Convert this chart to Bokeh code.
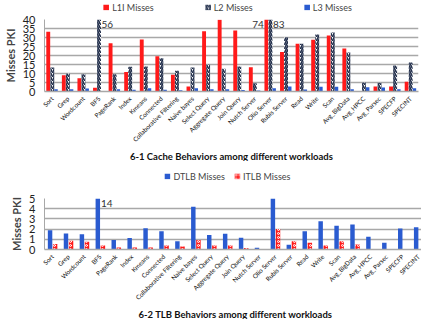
from bokeh.plotting import figure
from bokeh.layouts import column
from bokeh.models import (Range1d, FactorRange, Legend, LegendItem, Title,
                          ColumnDataSource, FixedTicker)
from bokeh.transform import dodge
from bokeh.core.properties import value
from bokeh.embed import file_html
from bokeh.resources import INLINE

workloads = ["Sort", "Grep", "Wordcount", "BFS", "PageRank", "Index", "Kmeans",
             "Connected", "Collaborative Filtering", "Naive bayes", "Select Query",
             "Aggregate Query", "Join Query", "Nutch Server", "Olio Server",
             "Rubis Server", "Read", "Write", "Scan", "Avg_BigData", "Avg_HPCC",
             "Avg_Parsec", "SPECFP", "SPECINT"]

l1i_misses = [33.2, 9.0, 7.3, 2.1, 26.8, 10.8, 28.9, 19.6, 9.3, 2.8, 33.5,
              39.8, 33.9, 13.5, 74, 21.9, 26.5, 28.7, 31.1, 23.9, 0.2, 2.8, 2.8, 5.4]
l2_misses = [13.4, 10.0, 9.6, 56, 9.6, 13.7, 13.9, 18.5, 11.5, 13.3, 15.0,
             12.6, 13.9, 4.6, 83, 30.2, 26.5, 31.7, 32.8, 21.7, 5.0, 4.8, 14.4, 16.1]
l3_misses = [1.3, 1.3, 1.7, 0.2, 1.2, 1.0, 1.8, 1.0, 0.7, 1.8, 1.2,
             1.3, 0.8, 0.5, 1.8, 2.8, 1.1, 2.6, 2.6, 1.2, 2.4, 2.2, 1.2, 1.8]

dtlb_misses = [1.88, 1.58, 1.5, 14, 0.93, 1.12, 2.08, 1.78, 0.82, 4.18, 1.42,
               1.55, 1.15, 0.17, 5.0, 0.47, 1.8, 2.78, 2.32, 2.45, 1.25, 0.67, 2.05, 2.18]
itlb_misses = [0.55, 0.85, 0.75, 0.4, 0.2, 0.2, 0.2, 0.4, 0.3, 0.92, 0.4,
               0.4, 0.15, 0.05, 2.0, 0.8, 0.67, 0.4, 0.8, 0.5, 0.0, 0.0, 0.03, 0.03]

cache_ticks = [0, 5, 10, 15, 20, 25, 30, 35, 40]
tlb_ticks = [0, 1, 2, 3, 4, 5]

cache_series = ["L1I Misses", "L2 Misses", "L3 Misses"]
tlb_series = ["DTLB Misses", "ITLB Misses"]
cache_title = "6-1 Cache Behaviors among different workloads"
tlb_title = "6-2 TLB Behaviors among different workloads"

FONT = "Lato"
RED = "#ff1a1a"
NAVY = "#1e2b48"
BLUE = "#2a5bd0"
GRID = "#a8a8a8"

STYLE_L1I = dict(fill_color=RED, line_color=None)
STYLE_L2 = dict(fill_color="white", line_color=None, hatch_pattern="/",
                hatch_color=NAVY, hatch_scale=4, hatch_weight=1.6)
STYLE_L3 = dict(fill_color=BLUE, line_color=None)
STYLE_DTLB = dict(fill_color=BLUE, line_color=None)
STYLE_ITLB = dict(fill_color=RED, line_color=None, hatch_pattern="o",
                  hatch_color="white", hatch_scale=4, hatch_weight=1)


def base_fig(fw, fh, ymax, ticks, border_left, border_top):
    p = figure(x_range=FactorRange(factors=workloads), y_range=Range1d(0, ymax),
               frame_width=fw, frame_height=fh, output_backend="svg",
               toolbar_location=None, min_border_left=border_left,
               min_border_right=2, min_border_top=border_top, min_border_bottom=0)
    p.outline_line_color = None
    p.xgrid.grid_line_color = None
    p.ygrid.grid_line_color = GRID
    p.ygrid.grid_line_width = 1.5
    p.yaxis.ticker = FixedTicker(ticks=ticks)
    p.yaxis.axis_label = "Misses PKI"
    p.yaxis.axis_label_text_font = FONT
    p.yaxis.axis_label_text_font_style = "bold"
    p.yaxis.axis_label_text_font_size = "11px"
    p.yaxis.axis_label_standoff = 3
    p.yaxis.major_label_text_font = FONT
    p.yaxis.major_label_text_font_size = "11px"
    p.yaxis.major_label_text_color = "#222222"
    p.yaxis.major_label_standoff = 3
    p.yaxis.major_tick_line_color = None
    p.yaxis.minor_tick_line_color = None
    p.yaxis.axis_line_color = GRID
    p.xaxis.axis_line_color = GRID
    p.xaxis.axis_line_width = 1.5
    p.xaxis.major_tick_line_color = None
    p.xaxis.minor_tick_line_color = None
    p.xaxis.major_label_orientation = 0.785
    p.xaxis.major_label_text_font = FONT
    p.xaxis.major_label_text_font_size = "6.3px"
    p.xaxis.major_label_text_color = "#111111"
    p.xaxis.major_label_standoff = 0
    return p


def legend_fig(height, border_left, labels, styles, spacing):
    lf = figure(width=412, height=height, output_backend="svg", toolbar_location=None,
                x_axis_type=None, y_axis_type=None, min_border=0,
                min_border_left=border_left, x_range=(0, 1), y_range=(0, 1))
    lf.outline_line_color = None
    lf.grid.visible = False
    # zero-height placeholder bars: they only carry the legend swatch styles
    swatch = ColumnDataSource(dict(x=[0.5], top=[0.0]))
    items = []
    for lab, st in zip(labels, styles):
        r = lf.vbar(x="x", top="top", width=0.001, source=swatch, **st)
        items.append(LegendItem(label=lab, renderers=[r]))
    leg = Legend(items=items, orientation="horizontal", location="center",
                 spacing=spacing, glyph_width=7, glyph_height=7, label_height=9,
                 label_standoff=3, label_text_font=FONT, label_text_font_size="9px",
                 padding=0, margin=0, border_line_color=None, background_fill_alpha=0)
    lf.add_layout(leg, "center")
    return lf


def add_title(p, text):
    t = Title(text=text, align="center", text_font=FONT, text_font_style="bold",
              text_font_size="9.5px", text_color="#111111", standoff=0)
    p.add_layout(t, "below")


def add_overflow_labels(p, values, offset, align, ymax):
    src = ColumnDataSource(dict(
        w=[w for w, v in zip(workloads, values) if v > ymax],
        t=[str(int(v)) for v in values if v > ymax],
        y=[ymax for v in values if v > ymax]))
    p.text(x=dodge("w", offset, range=p.x_range), y="y", text="t", source=src,
           text_align=align, text_baseline="top", y_offset=1,
           text_font=value(FONT), text_font_size="10px", text_color="#333333")


# ---------- Cache chart ----------
cache_src = ColumnDataSource(dict(w=workloads, l1i=l1i_misses, l2=l2_misses, l3=l3_misses))
p1 = base_fig(374, 72, 40, cache_ticks, 32, 6)
p1.vbar(x=dodge("w", -0.26, range=p1.x_range), top="l1i", width=0.25,
        source=cache_src, **STYLE_L1I)
p1.vbar(x=dodge("w", 0.0, range=p1.x_range), top="l2", width=0.25,
        source=cache_src, **STYLE_L2)
p1.vbar(x=dodge("w", 0.24, range=p1.x_range), top="l3", width=0.22,
        source=cache_src, **STYLE_L3)
add_overflow_labels(p1, l1i_misses, -0.42, "right", 40)
add_overflow_labels(p1, l2_misses, 0.16, "left", 40)
add_title(p1, cache_title)
lg1 = legend_fig(13, 32, cache_series, [STYLE_L1I, STYLE_L2, STYLE_L3], 50)

# ---------- TLB chart ----------
tlb_src = ColumnDataSource(dict(w=workloads, dtlb=dtlb_misses, itlb=itlb_misses))
p2 = base_fig(382, 51, 5, tlb_ticks, 24, 7)
p2.vbar(x=dodge("w", -0.15, range=p2.x_range), top="dtlb", width=0.28,
        source=tlb_src, **STYLE_DTLB)
p2.vbar(x=dodge("w", 0.17, range=p2.x_range), top="itlb", width=0.28,
        source=tlb_src, **STYLE_ITLB)
add_overflow_labels(p2, dtlb_misses, 0.05, "left", 5)
add_title(p2, tlb_title)
lg2 = legend_fig(30, 0, tlb_series, [STYLE_DTLB, STYLE_ITLB], 8)

layout = column(lg1, p1, lg2, p2, spacing=0)
open("out.html", "w").write(file_html(layout, INLINE))
